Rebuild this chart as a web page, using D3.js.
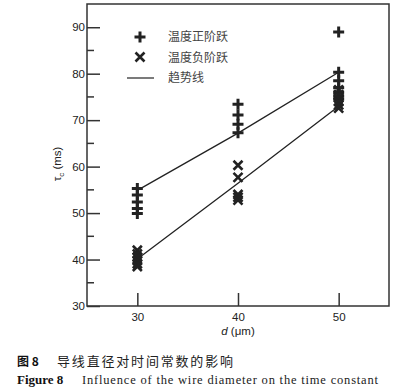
<!DOCTYPE html>
<html>
<head>
<meta charset="utf-8">
<script src="https://cdn.jsdelivr.net/npm/d3@7"></script>
<style>
  body { margin: 0; background: #fff; }
  svg { display: block; }
  .tick-label { font-family: "Liberation Sans", Arial, sans-serif; font-size: 11.5px; fill: #222; }
</style>
</head>
<body>
<script>
// diameters (um) on the x axis
const diameters = [30, 40, 50];
// tau_c (ms) for positive temperature step (+)
const posStep = [
  [55.3, 53.9, 52.4, 51.0, 49.9],
  [73.4, 71.1, 69.1, 67.3],
  [89.0, 80.3, 78.5, 77.0, 76.0, 75.2, 74.5]
];
// tau_c (ms) for negative temperature step (x)
const negStep = [
  [42.0, 41.2, 40.5, 39.8, 39.1, 38.5],
  [60.3, 57.7, 54.0, 53.4, 52.8],
  [76.5, 75.5, 74.8, 74.0, 73.3, 72.6]
];
// trend lines
const trendPos = [54.9, 67.2, 80.3];
const trendNeg = [40.1, 56.4, 73.0];

const xTicks = [30, 40, 50];
const yTicks = [30, 40, 50, 60, 70, 80, 90];
const yMinor = [35, 45, 55, 65, 75, 85];
const legendLabels = ["温度正阶跃", "温度负阶跃", "趋势线"];

const W = 420, H = 391;
const ink = "#222";

const svg = d3.select("body").append("svg")
  .attr("width", W)
  .attr("height", H);

const x = d3.scaleLinear().domain([25, 55]).range([87, 389]);
const y = d3.scaleLinear().domain([30, 95]).range([306, 4]);

// frame
svg.append("rect")
  .attr("x", x(25)).attr("y", y(95))
  .attr("width", x(55) - x(25))
  .attr("height", y(30) - y(95))
  .attr("fill", "none")
  .attr("stroke", "#333")
  .attr("stroke-width", 1.5);

// y axis (ticks inward)
const yAxis = d3.axisLeft(y).tickValues(yTicks).tickSize(-13).tickPadding(2).tickSizeOuter(0);
const gy = svg.append("g")
  .attr("transform", `translate(${x(25)},0)`)
  .call(yAxis);
gy.select(".domain").remove();
gy.selectAll("line").attr("stroke", "#333").attr("stroke-width", 1.5);
gy.selectAll("text").attr("class", "tick-label").attr("fill", ink);

svg.append("g").selectAll("line")
  .data(yMinor)
  .enter().append("line")
  .attr("x1", x(25)).attr("x2", x(25) + 7)
  .attr("y1", d => y(d)).attr("y2", d => y(d))
  .attr("stroke", "#333").attr("stroke-width", 1.5);

// x axis (ticks inward)
const xAxis = d3.axisBottom(x).tickValues(xTicks).tickSize(-13).tickPadding(7).tickSizeOuter(0);
const gx = svg.append("g")
  .attr("transform", `translate(0,${y(30)})`)
  .call(xAxis);
gx.select(".domain").remove();
gx.selectAll("line").attr("stroke", "#333").attr("stroke-width", 1.5);
gx.selectAll("text").attr("class", "tick-label").attr("fill", ink);

// axis titles
svg.append("text")
  .attr("transform", "translate(61,164) rotate(-90)")
  .attr("text-anchor", "middle")
  .style("font-family", "Liberation Sans, Arial, sans-serif")
  .style("font-size", "11.5px")
  .attr("fill", ink)
  .html('τ<tspan font-size="8px" dy="3">c</tspan><tspan dy="-3"> (ms)</tspan>');

svg.append("text")
  .attr("x", x(40)).attr("y", 335)
  .attr("text-anchor", "middle")
  .style("font-family", "Liberation Sans, Arial, sans-serif")
  .style("font-size", "11.5px")
  .attr("fill", ink)
  .html('<tspan font-style="italic">d</tspan> (μm)');

// trend lines
const line = d3.line().x((d, i) => x(diameters[i])).y(d => y(d));
[trendPos, trendNeg].forEach(t => {
  svg.append("path")
    .attr("d", line(t))
    .attr("fill", "none")
    .attr("stroke", ink)
    .attr("stroke-width", 1.3);
});

// markers
function plus(g, cx, cy) {
  g.append("path")
    .attr("d", `M${cx - 5.5},${cy}H${cx + 5.5}M${cx},${cy - 5.5}V${cy + 5.5}`)
    .attr("stroke", ink).attr("stroke-width", 3).attr("fill", "none");
}
function cross(g, cx, cy) {
  const r = 4.5;
  g.append("path")
    .attr("d", `M${cx - r},${cy - r}L${cx + r},${cy + r}M${cx - r},${cy + r}L${cx + r},${cy - r}`)
    .attr("stroke", ink).attr("stroke-width", 2.6).attr("fill", "none");
}

const marks = svg.append("g");
posStep.forEach((vals, i) => vals.forEach(v => plus(marks, x(diameters[i]), y(v))));
negStep.forEach((vals, i) => vals.forEach(v => cross(marks, x(diameters[i]), y(v))));

// legend
const lg = svg.append("g");
plus(lg, 140, 37);
cross(lg, 140, 57);
lg.append("line")
  .attr("x1", 127).attr("x2", 154).attr("y1", 78).attr("y2", 78)
  .attr("stroke", "#333").attr("stroke-width", 1.3);
lg.selectAll("text")
  .data(legendLabels)
  .enter().append("text")
  .attr("x", 168)
  .attr("y", (d, i) => 41 + i * 20.5)
  .style("font-family", "Noto Sans CJK SC, sans-serif")
  .style("font-size", "12px")
  .attr("fill", "#444")
  .text(d => d);

// caption
const cap = svg.append("g");
cap.append("text")
  .attr("x", 17).attr("y", 366)
  .style("font-family", "Noto Sans CJK SC, sans-serif")
  .style("font-size", "12px").style("font-weight", "bold")
  .attr("fill", "#111")
  .text("图 8");
cap.append("text")
  .attr("x", 57).attr("y", 366)
  .attr("textLength", 176)
  .style("font-family", "Noto Sans CJK SC, sans-serif")
  .style("font-size", "13px")
  .attr("fill", "#222")
  .text("导线直径对时间常数的影响");
cap.append("text")
  .attr("x", 17).attr("y", 384)
  .style("font-family", "Liberation Serif, serif")
  .style("font-size", "13px").style("font-weight", "bold")
  .attr("fill", "#111")
  .text("Figure 8");
cap.append("text")
  .attr("x", 82).attr("y", 384)
  .attr("textLength", 296)
  .style("font-family", "Liberation Serif, serif")
  .style("font-size", "12.5px")
  .attr("fill", "#222")
  .text("Influence of the wire diameter on the time constant");
</script>
</body>
</html>
